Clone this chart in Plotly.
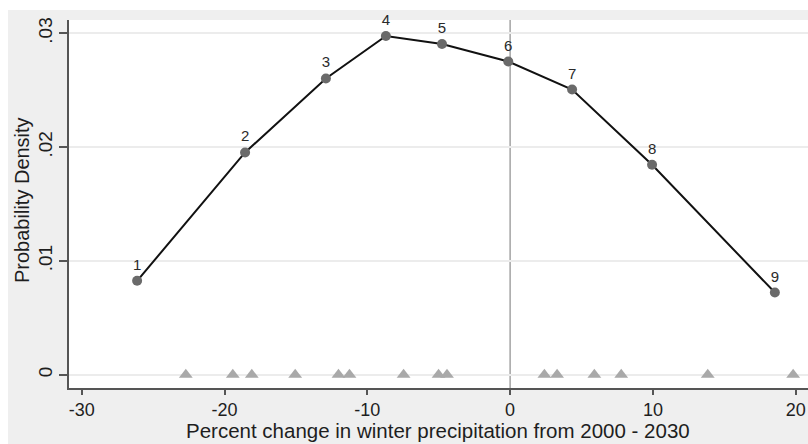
import plotly.graph_objects as go

# Density curve evaluated at nine points (percent change vs. probability density)
curve_x = [-26.12, -18.56, -12.90, -8.70, -4.77, -0.13, 4.34, 9.94, 18.54]
curve_y = [0.00825, 0.01953, 0.02603, 0.02976, 0.02906, 0.02752, 0.02506, 0.01845, 0.00722]
curve_labels = ["1", "2", "3", "4", "5", "6", "7", "8", "9"]

# Individual model projections shown as a rug along zero
rug_x = [-22.71, -19.42, -18.09, -15.05, -12.02, -11.25, -7.46, -5.01, -4.42,
         2.40, 3.29, 5.90, 7.78, 13.84, 19.82]
rug_y = [0] * len(rug_x)

y_ticks = [0, 0.01, 0.02, 0.03]
y_tick_text = ["0", ".01", ".02", ".03"]
x_ticks = [-30, -20, -10, 0, 10, 20]
x_tick_text = ["-30", "-20", "-10", "0", "10", "20"]

x_title = "Percent change in winter precipitation from 2000 - 2030"
y_title = "Probability Density"

W, H = 808, 444
ML, MR, MT, MB = 69, 0, 20, 56
PW, PH = W - ML - MR, H - MT - MB

FONT = "Liberation Sans, Arial, sans-serif"
TXT = "#1e1e1e"


def px_to_paper_x(px):
    return (px - ML) / PW


def px_to_paper_y(py):
    return (H - MB - py) / PH


fig = go.Figure()

fig.add_trace(go.Scatter(
    x=rug_x, y=rug_y, mode="markers",
    marker=dict(symbol="triangle-up", size=12, color="#a9a9a9"),
    cliponaxis=False, showlegend=False, hoverinfo="skip",
))

fig.add_trace(go.Scatter(
    x=curve_x, y=curve_y, mode="lines+markers+text",
    line=dict(color="#111111", width=2),
    marker=dict(symbol="circle", size=10, color="#6a6a6a"),
    text=curve_labels, textposition="top center",
    textfont=dict(family=FONT, size=15, color="#2a2a2a"),
    cliponaxis=False, showlegend=False, hoverinfo="skip",
))

# vertical reference line at zero change
fig.add_shape(type="line", xref="x", yref="paper", x0=0, x1=0, y0=0, y1=1,
              line=dict(color="#a3a3a3", width=1.5), layer="below")

# thin white frame along the left and top edges of the graph region
fig.add_shape(type="rect", xref="paper", yref="paper",
              x0=px_to_paper_x(0), x1=px_to_paper_x(8), y0=px_to_paper_y(H), y1=px_to_paper_y(0),
              fillcolor="white", line=dict(width=0), layer="below")
fig.add_shape(type="rect", xref="paper", yref="paper",
              x0=px_to_paper_x(0), x1=px_to_paper_x(W), y0=px_to_paper_y(10), y1=px_to_paper_y(0),
              fillcolor="white", line=dict(width=0), layer="below")

# axis titles
fig.add_annotation(text=x_title, xref="paper", yref="paper",
                   x=px_to_paper_x(438), y=px_to_paper_y(444),
                   xanchor="center", yanchor="bottom", showarrow=False,
                   font=dict(size=20.5, family=FONT, color=TXT))
fig.add_annotation(text=y_title, xref="paper", yref="paper",
                   x=px_to_paper_x(22), y=px_to_paper_y(200), textangle=-90,
                   xanchor="center", yanchor="middle", showarrow=False,
                   font=dict(size=20, family=FONT, color=TXT))

fig.update_layout(
    width=W, height=H,
    margin=dict(l=ML, r=MR, t=MT, b=MB),
    paper_bgcolor="#efefef",
    plot_bgcolor="white",
    font=dict(family=FONT, color=TXT),
    xaxis=dict(
        range=[-30.89, 20.86], tickvals=x_ticks, ticktext=x_tick_text,
        showgrid=False, zeroline=False,
        showline=True, linecolor="#555555", linewidth=1.5,
        ticks="outside", ticklen=5, tickcolor="#555555", tickwidth=1.5,
        tickfont=dict(size=18, family=FONT, color=TXT),
    ),
    yaxis=dict(
        range=[-0.001167, 0.03117], tickvals=y_ticks, ticktext=y_tick_text,
        tickangle=-90,
        showgrid=True, gridcolor="#ececec", gridwidth=2, zeroline=False,
        showline=True, linecolor="#555555", linewidth=1.5,
        ticks="outside", ticklen=8, tickcolor="#555555", tickwidth=1.5,
        tickfont=dict(size=19, family=FONT, color=TXT),
    ),
)

fig.write_html("out.html")
